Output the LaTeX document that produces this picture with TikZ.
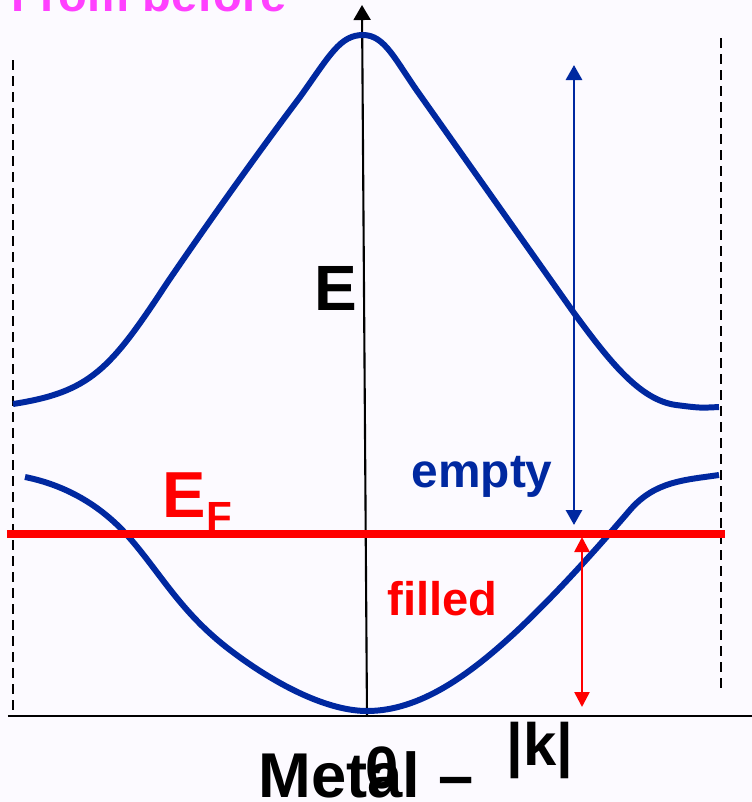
\documentclass[tikz,border=0pt]{standalone}
\usepackage{fontspec}
\setmainfont{Liberation Sans}
\usetikzlibrary{arrows.meta}
\definecolor{bandblue}{RGB}{0,40,160}
\definecolor{beforepink}{RGB}{255,64,255}
\definecolor{paper}{RGB}{252,250,255}
\begin{document}
\begin{tikzpicture}[x=0.01cm,y=-0.01cm,
  band/.style={bandblue,line width=1.7pt,line join=round},
  lbl/.style={inner sep=0,anchor=base west,font=\bfseries\fontsize{#1}{#1}\selectfont}]
\fill[paper] (0,0) rectangle (752,802);
\useasboundingbox (0,0) rectangle (752,802);
\clip (0,0) rectangle (752,802);
% axes
\coordinate (O) at (367,716);
\coordinate (Etip) at (362,5);
\coordinate (kleft) at (8,716);
\coordinate (kright) at (752,716);
\draw[line width=0.7pt] (kleft) -- (kright);
\draw[line width=0.6pt,arrows={-Triangle[width=0.17cm,length=0.15cm]}] (O) -- (Etip);
\foreach \x/\top/\bot in {13/60/716,721/38/693}
   \draw[line width=0.7pt,dash pattern=on 0.1cm off 0.06cm] (\x,\top) -- (\x,\bot);
% bands
\draw[band] (13,404) .. controls (90,392) and (110,370) .. (167,283)
  .. controls (210,220) and (260,150) .. (300,97)
  .. controls (330,55) and (340,35) .. (363,35)
  .. controls (385,35) and (395,60) .. (420,95)
  -- (574,313)
  .. controls (610,362) and (640,400) .. (676,405)
  .. controls (700,408) .. (719,407);
\draw[band] (25,477) .. controls (65,485) and (100,505) .. (127,535)
  .. controls (160,572) and (180,612) .. (230,650)
  .. controls (280,688) and (330,711) .. (367,711)
  .. controls (420,711) and (470,675) .. (520,628)
  .. controls (560,590) and (600,545) .. (630,510)
  .. controls (655,481) and (685,480) .. (719,475);
% Fermi level
\coordinate (EFleft) at (7,534);
\coordinate (EFright) at (725,534);
\draw[red,line width=2.3pt] (EFleft) -- (EFright);
\coordinate (emptytop) at (574,65);
\coordinate (emptybot) at (574,525);
\draw[bandblue,line width=0.85pt,arrows={Triangle[width=0.16cm,length=0.15cm]-Triangle[width=0.16cm,length=0.15cm]}] (emptybot) -- (emptytop);
\coordinate (filledtop) at (582,537);
\coordinate (filledbot) at (582,707);
\draw[red,line width=0.75pt,arrows={Triangle[width=0.15cm,length=0.15cm]-Triangle[width=0.15cm,length=0.15cm]}] (filledtop) -- (filledbot);
% labels
\node[lbl=13.4,beforepink] (before) at (11,11) {From before};
\node[lbl=18.2] (E) at (314,310) {E};
\node[lbl=18.5,red] (EF) at (162,517) {E\raisebox{-4pt}{\fontsize{12}{12}\selectfont F}};
\node[lbl=13.6,bandblue] (empty) at (411,487) {empty};
\node[lbl=13.4,red] (filled) at (387,615) {filled};
\node[lbl=17] (zero) at (365,788) {0};
\node[lbl=17] (k) at (506,765) {|k|};
\node[lbl=18] (metal) at (258,797) {Metal –};
\end{tikzpicture}
\end{document}
